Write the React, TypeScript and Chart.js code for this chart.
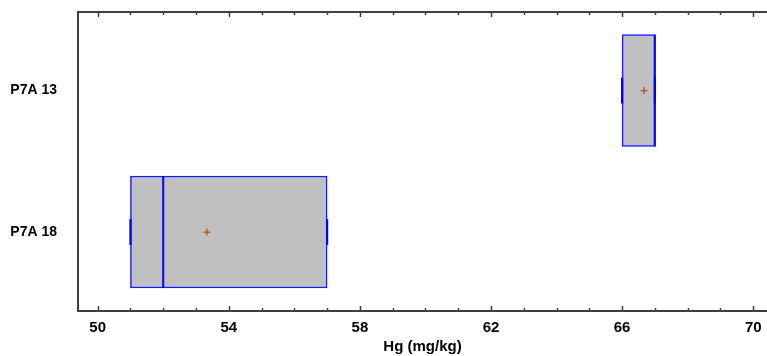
import React, { useEffect, useRef } from "react";
import { Chart, registerables } from "chart.js";

Chart.register(...registerables);

const categories = ["P7A 13", "P7A 18"];
const categoryPos = [1, 0];
const mins = [66, 51];
const q1s = [66, 51];
const medians = [67, 52];
const q3s = [67, 57];
const maxs = [67, 57];
const means = [66.67, 53.33];
const xTickLabels = [50, 54, 58, 62, 66, 70];
const xMin = 49.4;
const xMax = 70.42;
const yMin = -0.558;
const yMax = 1.555;

const AXIS_COLOR = "#404040";
const FONT = "'Liberation Sans', Arial, sans-serif";

const inwardTicks = {
  id: "inwardTicks",
  afterDraw(chart: any) {
    const { ctx, chartArea, scales } = chart;
    const { left, right, top, bottom } = chartArea;
    const x = scales.x;
    ctx.save();
    ctx.strokeStyle = AXIS_COLOR;
    ctx.lineWidth = 2;
    ctx.beginPath();
    ctx.moveTo(left - 1, top);
    ctx.lineTo(right, top);
    ctx.stroke();
    ctx.lineWidth = 1.5;
    ctx.beginPath();
    for (let v = 50; v <= 70; v++) {
      const px = Math.round(x.getPixelForValue(v)) + 0.5;
      const len = xTickLabels.includes(v) ? 5 : 3;
      ctx.moveTo(px, top);
      ctx.lineTo(px, top + len);
      ctx.moveTo(px, bottom);
      ctx.lineTo(px, bottom - len);
    }
    ctx.stroke();
    ctx.restore();
  },
};

export default function App() {
  const ref = useRef<HTMLCanvasElement | null>(null);

  useEffect(() => {
    document.body.style.margin = "0";
    const canvas = ref.current;
    if (!canvas) return;
    const boxData = categories.map((_, i) => ({ x: [q1s[i], q3s[i]], y: categoryPos[i] }));
    const medianData = categories.map((_, i) => ({ x: medians[i], y: categoryPos[i] }));
    const meanData = categories.map((_, i) => ({ x: means[i], y: categoryPos[i] }));
    const capData: any[] = [];
    categories.forEach((_, i) => {
      capData.push({ x: mins[i], y: categoryPos[i] });
      capData.push({ x: maxs[i], y: categoryPos[i] });
    });

    const common = { xAxisID: "x", yAxisID: "y" };

    const chart = new Chart(canvas, {
      type: "bar",
      data: {
        datasets: [
          {
            ...common,
            type: "line",
            showLine: false,
            data: meanData,
            pointStyle: "cross",
            pointRadius: 3.5,
            pointBorderColor: "#b04e1c",
            pointBackgroundColor: "#b04e1c",
            pointBorderWidth: 1.3,
            order: 0,
          } as any,
          {
            ...common,
            type: "line",
            showLine: false,
            data: medianData,
            pointStyle: "line",
            pointRotation: 90,
            pointRadius: 56,
            pointBorderColor: "#0000ff",
            pointBorderWidth: 2,
            order: 1,
          } as any,
          {
            ...common,
            type: "line",
            showLine: false,
            data: capData,
            pointStyle: "line",
            pointRotation: 90,
            pointRadius: 13,
            pointBorderColor: "#0000ff",
            pointBorderWidth: 2.2,
            order: 2,
          } as any,
          {
            ...common,
            type: "bar",
            data: boxData,
            backgroundColor: "#c0c0c0",
            borderColor: "#1a1aff",
            borderWidth: 1.5,
            borderSkipped: false,
            barThickness: 112,
            order: 3,
          } as any,
        ],
      },
      options: {
        indexAxis: "y",
        animation: false,
        responsive: false,
        layout: { autoPadding: false, padding: { top: 12, right: 0, left: 0, bottom: 0 } },
        plugins: { legend: { display: false }, tooltip: { enabled: false } },
        scales: {
          x: {
            type: "linear",
            position: "bottom",
            offset: false,
            bounds: "data",
            min: xMin,
            max: xMax,
            afterBuildTicks: (s: any) => {
              s.min = xMin;
              s.max = xMax;
              s.ticks = xTickLabels.map((v) => ({ value: v }));
            },
            afterFit: (s: any) => {
              s.height = 45;
              s.paddingLeft = 0;
              s.paddingRight = 0;
              s.paddingTop = 0;
              s.paddingBottom = 0;
            },
            grid: { display: true, drawOnChartArea: false, drawTicks: false, offset: false },
            border: { display: true, color: AXIS_COLOR, width: 2 },
            ticks: {
              padding: 8,
              color: "#000",
              font: { family: FONT, size: 15, weight: "bold" },
              maxRotation: 0,
            },
            title: {
              display: true,
              text: "Hg (mg/kg)",
              color: "#000",
              font: { family: FONT, size: 15, weight: "bold" },
              padding: { top: 0, bottom: 0 },
            },
          },
          y: {
            type: "linear",
            position: "left",
            offset: false,
            bounds: "data",
            min: yMin,
            max: yMax,
            afterBuildTicks: (s: any) => {
              s.min = yMin;
              s.max = yMax;
              s.ticks = categoryPos.map((v) => ({ value: v }));
            },
            afterFit: (s: any) => {
              s.width = 78;
              s.paddingLeft = 0;
              s.paddingRight = 0;
              s.paddingTop = 0;
              s.paddingBottom = 0;
            },
            grid: { display: true, drawOnChartArea: false, drawTicks: false, offset: false },
            border: { display: true, color: AXIS_COLOR, width: 2 },
            ticks: {
              padding: 21,
              color: "#000",
              font: { family: FONT, size: 14, weight: "bold" },
              callback: (v: any) => {
                const idx = categoryPos.indexOf(Number(v));
                return idx >= 0 ? categories[idx] : "";
              },
            },
          },
        },
      },
      plugins: [inwardTicks],
    });
    return () => chart.destroy();
  }, []);

  return (
    <div style={{ position: "fixed", left: 0, top: 0, width: 767, height: 356, background: "#fff" }}>
      <canvas ref={ref} width={767} height={356} style={{ width: 767, height: 356, display: "block" }} />
    </div>
  );
}
